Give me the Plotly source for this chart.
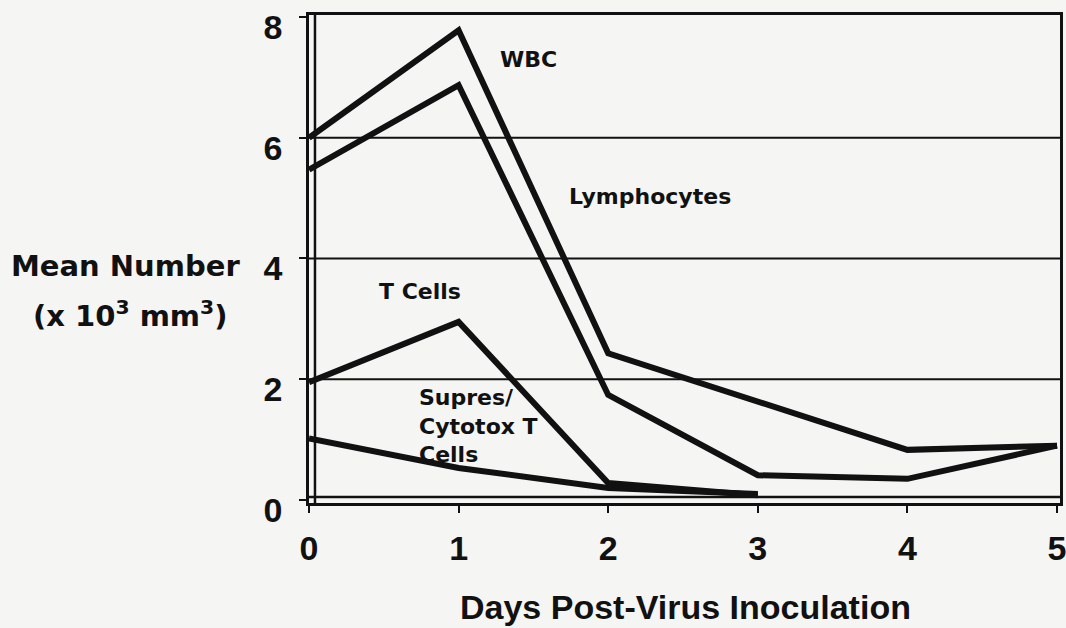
import plotly.graph_objects as go

# Days after inoculation
days = [0, 1, 2, 3, 4, 5]

# Mean counts (x 10^3 per mm^3)
wbc = [6.0, 7.78, 2.43, 1.64, 0.83, 0.9]
lymphocytes = [5.47, 6.87, 1.74, 0.41, 0.35, 0.9]
t_cells_days = [0, 1, 2, 3]
t_cells = [1.95, 2.95, 0.28, 0.08]
supres_days = [0, 1, 2, 3]
supres_cytotox = [1.02, 0.53, 0.2, 0.1]

# Axis ticks and horizontal rules
x_ticks = [0, 1, 2, 3, 4, 5]
y_ticks = [0, 2, 4, 6, 8]
grid_levels = [2, 4, 6]

INK = "#111111"
BG = "#f5f5f3"
TICK_FONT = dict(family="Liberation Sans", size=34, color=INK, weight="bold")
LABEL_FONT = dict(family="DejaVu Sans", size=22, color=INK, weight="bold")

fig = go.Figure()

for xs, ys in [(days, wbc), (days, lymphocytes),
               (t_cells_days, t_cells), (supres_days, supres_cytotox)]:
    fig.add_trace(go.Scatter(
        x=xs, y=ys, mode="lines",
        line=dict(color=INK, width=6),
        showlegend=False, hoverinfo="skip", cliponaxis=True,
    ))

x_range = [0, 5.02]
y_range = [-0.05, 8.033]

shapes = []
for lvl in grid_levels:
    shapes.append(dict(type="line", xref="x", yref="y",
                       x0=x_range[0], x1=x_range[1], y0=lvl, y1=lvl,
                       line=dict(color=INK, width=2), layer="below"))
# inner rules forming the doubled left and bottom axes
shapes.append(dict(type="line", xref="x", yref="y",
                   x0=0.04, x1=0.04, y0=y_range[0], y1=y_range[1],
                   line=dict(color=INK, width=2.5), layer="above"))
shapes.append(dict(type="line", xref="x", yref="y",
                   x0=x_range[0], x1=x_range[1], y0=0.05, y1=0.05,
                   line=dict(color=INK, width=2.5), layer="below"))

annotations = [
    dict(x=1.464, y=7.30, text="WBC", xref="x", yref="y",
         showarrow=False, font=LABEL_FONT, xanchor="center", yanchor="middle"),
    dict(x=2.28, y=5.02, text="Lymphocytes", xref="x", yref="y",
         showarrow=False, font=LABEL_FONT, xanchor="center", yanchor="middle"),
    dict(x=0.742, y=3.46, text="T Cells", xref="x", yref="y",
         showarrow=False, font=LABEL_FONT, xanchor="center", yanchor="middle"),
    dict(x=0.722, y=1.94, text="Supres/<br>Cytotox T<br>Cells", xref="x", yref="y",
         showarrow=False, font=LABEL_FONT, xanchor="left", yanchor="top", align="left"),
    dict(x=-0.245, y=0.486, text="Mean Number", xref="paper", yref="paper",
         showarrow=False, font=dict(family="DejaVu Sans", size=29, color=INK, weight="bold"),
         xanchor="center", yanchor="middle"),
    dict(x=-0.238, y=0.387, text="(x 10<sup>3</sup> mm<sup>3</sup>)", xref="paper", yref="paper",
         showarrow=False, font=dict(family="DejaVu Sans", size=29, color=INK, weight="bold"),
         xanchor="center", yanchor="middle"),
    dict(x=0.5007, y=-0.213, text="Days Post-Virus Inoculation", xref="paper", yref="paper",
         showarrow=False, font=dict(family="Liberation Sans", size=34, color=INK, weight="bold"),
         xanchor="center", yanchor="middle"),
]

fig.update_layout(
    width=1066, height=628,
    margin=dict(l=309, r=6, t=15, b=125, autoexpand=False),
    paper_bgcolor=BG, plot_bgcolor=BG,
    shapes=shapes, annotations=annotations,
    xaxis=dict(range=x_range, tickvals=x_ticks, ticktext=[str(v) for v in x_ticks],
               showgrid=False, zeroline=False, automargin=False,
               showline=True, mirror=True, linecolor=INK, linewidth=2.5,
               ticks="outside", ticklen=7, tickwidth=2, tickcolor=INK,
               tickfont=TICK_FONT, ticklabelstandoff=6,
               ticklabeloverflow="allow", fixedrange=True),
    yaxis=dict(range=y_range, tickvals=y_ticks, ticktext=[str(v) for v in y_ticks],
               showgrid=False, zeroline=False, automargin=False,
               showline=True, mirror=True, linecolor=INK, linewidth=2.5,
               ticks="outside", ticklen=7, tickwidth=2, tickcolor=INK,
               tickfont=TICK_FONT, ticklabelstandoff=10, ticklabelshift=10,
               ticklabeloverflow="allow", fixedrange=True),
)

fig.write_html("out.html", config={"displayModeBar": False})
